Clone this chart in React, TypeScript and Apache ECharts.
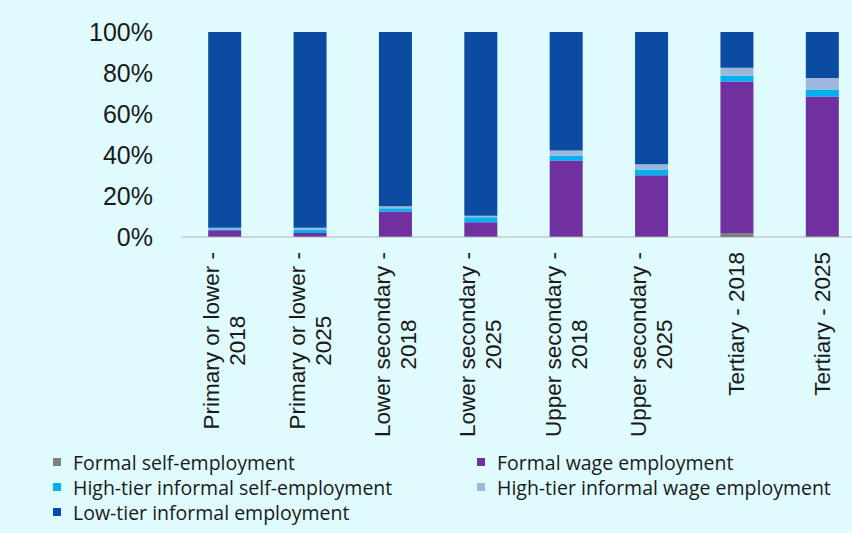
import React, { useEffect, useRef } from "react";
import * as echarts from "echarts";

const categories = [
  "Primary or lower -\n2018",
  "Primary or lower -\n2025",
  "Lower secondary -\n2018",
  "Lower secondary -\n2025",
  "Upper secondary -\n2018",
  "Upper secondary -\n2025",
  "Tertiary - 2018",
  "Tertiary - 2025",
];

const seriesNames = [
  "Formal self-employment",
  "Formal wage employment",
  "High-tier informal self-employment",
  "High-tier informal wage employment",
  "Low-tier informal employment",
];

const formalSelf = [0.3, 0.2, 0.3, 0.2, 0.3, 0.3, 2.0, 0.5];
const formalWage = [3.0, 1.7, 12.2, 7.0, 37.0, 29.8, 73.8, 68.0];
const highTierSelf = [0.5, 1.8, 1.5, 2.4, 2.3, 2.8, 2.8, 3.4];
const highTierWage = [0.7, 0.8, 1.0, 0.8, 2.6, 2.6, 4.0, 5.7];
const lowTier = [95.5, 95.5, 85.0, 89.6, 57.8, 64.5, 17.4, 22.4];

const yTicks = [0, 20, 40, 60, 80, 100];

const colors = ["#808080", "#7030a0", "#00b0f0", "#9db6da", "#0b4ba1"];

export default function App() {
  const ref = useRef<HTMLDivElement>(null);

  useEffect(() => {
    if (!ref.current) return;
    const chart = echarts.init(ref.current, null, { renderer: "svg" });
    const values = [formalSelf, formalWage, highTierSelf, highTierWage, lowTier];

    const legendText = {
      fontFamily: "Open Sans",
      fontSize: 19.5,
      color: "#1a1a1a",
      lineHeight: 20,
      padding: [0, 0, 0, 7],
    };

    chart.setOption({
      animation: false,
      backgroundColor: "#dffbfd",
      grid: {
        left: 182,
        right: -13,
        top: 32,
        bottom: 296,
        containLabel: false,
        outerBoundsMode: "none",
      },
      legend: [
        {
          orient: "vertical",
          left: 53,
          top: 452,
          padding: 0,
          itemGap: 5,
          itemWidth: 8,
          itemHeight: 8,
          icon: "rect",
          textStyle: legendText,
          data: [seriesNames[0], seriesNames[2], seriesNames[4]],
        },
        {
          orient: "vertical",
          left: 477,
          top: 452,
          padding: 0,
          itemGap: 5,
          itemWidth: 8,
          itemHeight: 8,
          icon: "rect",
          textStyle: legendText,
          data: [seriesNames[1], seriesNames[3]],
        },
      ],
      xAxis: {
        type: "category",
        data: categories,
        axisTick: { show: false },
        axisLine: { lineStyle: { color: "#c8c8c8", width: 1.5 } },
        axisLabel: {
          interval: 0,
          rotate: 90,
          margin: 15,
          formatter: (v: string) =>
            v
              .split("\n")
              .map((s) => `{a|${s}}`)
              .join("\n"),
          rich: {
            a: {
              align: "center",
              fontFamily: "Liberation Sans",
              fontSize: 22.5,
              lineHeight: 26,
              color: "#1a1a1a",
            },
          },
        },
      },
      yAxis: {
        type: "value",
        min: yTicks[0],
        max: yTicks[yTicks.length - 1],
        interval: 20,
        splitLine: { show: false },
        axisLine: { show: false },
        axisTick: { show: false },
        axisLabel: {
          margin: 29,
          formatter: "{value}%",
          fontFamily: "Liberation Sans",
          fontSize: 25,
          color: "#1a1a1a",
        },
      },
      series: seriesNames.map((name, i) => ({
        name,
        type: "bar",
        stack: "total",
        barWidth: 33,
        itemStyle: { color: colors[i] },
        data: values[i],
      })),
    });

    return () => chart.dispose();
  }, []);

  return (
    <div
      ref={ref}
      style={{ position: "absolute", left: 0, top: 0, width: 852, height: 533 }}
    />
  );
}
